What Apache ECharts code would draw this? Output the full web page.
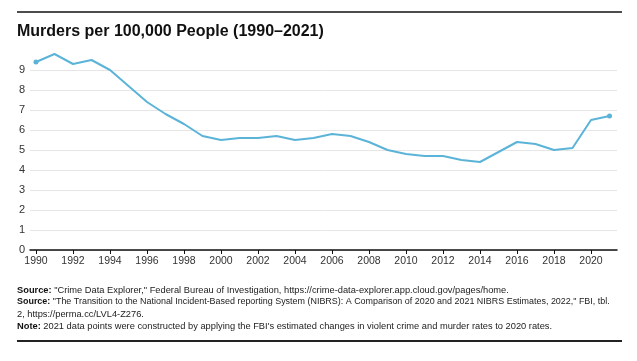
<!DOCTYPE html>
<html><head><meta charset="utf-8">
<script src="https://cdn.jsdelivr.net/npm/echarts@6/dist/echarts.min.js"></script>
<style>html,body{margin:0;padding:0;background:#fff}#c{width:637px;height:361px}</style>
</head><body><div id="c"></div>
<script>
const years = [1990,1991,1992,1993,1994,1995,1996,1997,1998,1999,2000,2001,2002,2003,2004,2005,2006,2007,2008,2009,2010,2011,2012,2013,2014,2015,2016,2017,2018,2019,2020,2021];
const rates = [9.4,9.8,9.3,9.5,9.0,8.2,7.4,6.8,6.3,5.7,5.5,5.6,5.6,5.7,5.5,5.6,5.8,5.7,5.4,5.0,4.8,4.7,4.7,4.5,4.4,4.9,5.4,5.3,5.0,5.1,6.5,6.7];
const xTickLabels = [1990,1992,1994,1996,1998,2000,2002,2004,2006,2008,2010,2012,2014,2016,2018,2020];
const titleText = 'Murders per 100,000 People (1990\u20132021)';
const footLines = [
  '{b|Source:} "Crime Data Explorer," Federal Bureau of Investigation, https://crime-data-explorer.app.cloud.gov/pages/home.',
  '{b|Source:} "The Transition to the National Incident-Based reporting System (NIBRS): A Comparison of 2020 and 2021 NIBRS Estimates, 2022," FBI, tbl.',
  '2, https://perma.cc/LVL4-Z276.',
  '{b|Note:} 2021 data points were constructed by applying the FBI\'s estimated changes in violent crime and murder rates to 2020 rates.'
];
const footSizes = [9.3, 8.95, 9.3, 9.3];

const FF = '"Liberation Sans", Arial, sans-serif';
const chart = echarts.init(document.getElementById('c'), null, {renderer:'canvas'});
const graphics = [
  {type:'line', shape:{x1:17,y1:12,x2:622,y2:12}, style:{stroke:'#111',lineWidth:1.5}},
  {type:'text', x:17, y:32, style:{text:titleText, font:'bold 16px '+FF, fill:'#111', verticalAlign:'middle'}},
  {type:'line', shape:{x1:17,y1:341,x2:622,y2:341}, style:{stroke:'#222',lineWidth:2}}
];
footLines.forEach((t,i)=>{
  graphics.push({type:'text', x:17, y:290+i*12, style:{text:t, fontSize:footSizes[i], fontFamily:FF, fill:'#222', verticalAlign:'middle',
    rich:{b:{fontWeight:'bold', fontSize:footSizes[i], fontFamily:FF, fill:'#111'}}}});
});

chart.setOption({
  animation:false,
  grid:{left:30,right:20,top:70,bottom:111},
  xAxis:{type:'value', min:1989.676, max:2021.405,
    splitLine:{show:false},
    axisLine:{show:true, lineStyle:{color:'#111', width:1.5}},
    axisTick:{show:true, customValues:xTickLabels, length:4, lineStyle:{color:'#111'}},
    axisLabel:{customValues:xTickLabels, color:'#333', fontSize:10.5, fontFamily:FF, margin:6, formatter:v=>String(v)}
  },
  yAxis:{type:'value', min:0, max:9, interval:1,
    axisLine:{show:false}, axisTick:{show:false},
    splitLine:{show:true, lineStyle:{color:'#e6e6e6', width:1}},
    axisLabel:{color:'#333', fontSize:11, fontFamily:FF, margin:5}
  },
  series:[{type:'line', data:years.map((y,i)=>[y,rates[i]]), clip:false,
    symbol:'circle',
    symbolSize:(v,p)=> (p.dataIndex===0||p.dataIndex===years.length-1)?5:0,
    showSymbol:true,
    lineStyle:{color:'#5bb4d8', width:2},
    itemStyle:{color:'#5bb4d8'}
  }],
  graphic:graphics
});
</script></body></html>
